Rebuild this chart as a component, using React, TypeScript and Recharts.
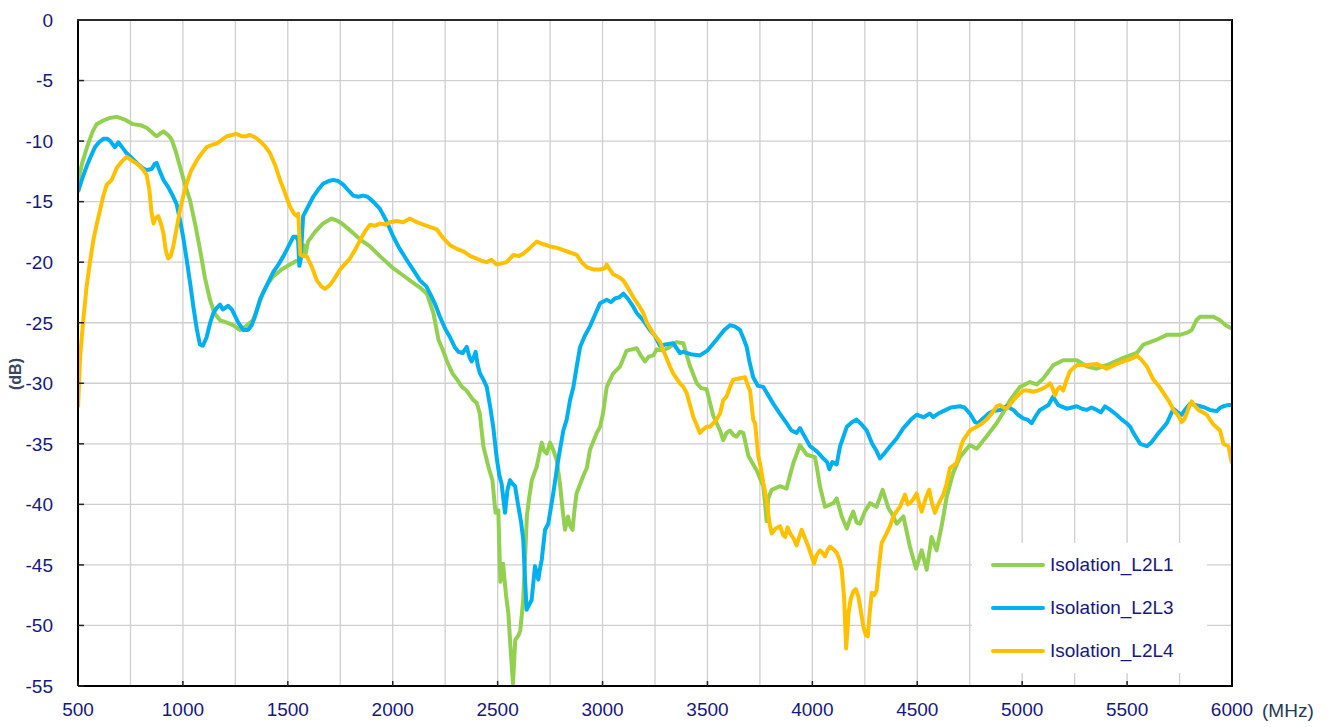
import { CartesianGrid, Line, LineChart, XAxis, YAxis } from "recharts";

// [MHz, dB]
const isolationL2L1: [number, number][] = [
  [500, -13.3], [520, -11.8], [545, -10.4], [570, -9.2], [589, -8.6], [620, -8.3], [650, -8.1], [685, -8.0],
  [720, -8.2], [762, -8.6], [800, -8.7], [827, -8.9], [860, -9.4], [875, -9.6], [907, -9.2], [930, -9.5],
  [947, -9.9], [965, -10.8], [986, -12.1], [1010, -13.6], [1034, -14.9], [1060, -17.0], [1082, -19.0],
  [1105, -21.3], [1129, -23.1], [1150, -24.2], [1177, -24.8], [1210, -25.0], [1239, -25.2], [1272, -25.6],
  [1300, -25.3], [1334, -24.8], [1360, -23.6], [1382, -22.5], [1405, -21.8], [1429, -21.2], [1470, -20.6],
  [1510, -20.2], [1540, -19.9], [1558, -19.8], [1575, -18.6], [1585, -19.3], [1596, -18.3], [1630, -17.5],
  [1668, -16.8], [1709, -16.4], [1740, -16.6], [1764, -16.9], [1812, -17.6], [1850, -18.2], [1892, -18.7],
  [1939, -19.5], [2002, -20.5], [2050, -21.1], [2098, -21.7], [2130, -22.1], [2163, -22.6], [2194, -24.2],
  [2218, -26.4], [2240, -27.3], [2259, -28.2], [2285, -29.2], [2307, -29.7], [2330, -30.3], [2352, -30.6],
  [2384, -31.4], [2400, -31.6], [2415, -32.5], [2432, -35.2], [2456, -36.9], [2475, -38.0], [2490, -40.7],
  [2503, -40.5], [2513, -46.4], [2526, -44.9], [2540, -47.5], [2551, -49.0], [2562, -52.0], [2573, -54.8],
  [2584, -51.2], [2600, -50.8], [2608, -50.4], [2622, -47.9], [2632, -44.0], [2639, -41.0], [2650, -39.5],
  [2663, -38.0], [2686, -36.9], [2710, -34.9], [2722, -35.6], [2734, -35.8], [2750, -34.9], [2765, -35.5],
  [2781, -36.3], [2797, -38.3], [2810, -40.5], [2821, -42.1], [2835, -41.0], [2846, -41.8], [2857, -42.1],
  [2866, -40.5], [2876, -39.1], [2907, -37.7], [2925, -37.0], [2940, -35.5], [2972, -34.1], [2988, -33.6],
  [3002, -32.5], [3020, -30.3], [3050, -29.2], [3084, -28.6], [3115, -27.3], [3140, -27.2], [3163, -27.1],
  [3182, -27.7], [3202, -28.2], [3220, -27.8], [3242, -27.7], [3258, -27.2], [3290, -27.3], [3321, -27.0],
  [3353, -26.6], [3385, -26.7], [3417, -28.6], [3449, -30.0], [3470, -30.4], [3496, -30.5], [3528, -32.7],
  [3560, -33.9], [3575, -34.7], [3591, -34.1], [3607, -33.9], [3625, -34.3], [3639, -34.4], [3655, -34.0],
  [3671, -34.1], [3695, -36.0], [3735, -37.2], [3766, -38.5], [3775, -40.0], [3782, -41.4], [3790, -39.5],
  [3806, -38.8], [3846, -38.5], [3877, -38.7], [3895, -37.5], [3909, -36.6], [3941, -35.1], [3973, -35.9],
  [4012, -36.1], [4024, -37.2], [4036, -38.5], [4060, -40.2], [4100, -39.9], [4116, -39.5], [4140, -41.0],
  [4164, -42.0], [4180, -41.2], [4195, -40.6], [4211, -41.5], [4227, -41.6], [4250, -40.6], [4275, -39.9],
  [4306, -40.2], [4335, -38.8], [4362, -40.3], [4380, -40.8], [4402, -41.6], [4434, -41.0], [4465, -43.5],
  [4494, -45.3], [4521, -43.8], [4545, -45.4], [4568, -42.7], [4592, -43.8], [4616, -41.8], [4640, -39.4],
  [4671, -37.4], [4703, -36.1], [4751, -35.1], [4783, -35.4], [4830, -34.4], [4878, -33.3], [4910, -32.4],
  [4942, -31.4], [4990, -30.3], [5037, -29.9], [5069, -30.1], [5101, -29.6], [5148, -28.5], [5196, -28.1],
  [5260, -28.1], [5307, -28.6], [5355, -28.8], [5418, -28.4], [5482, -27.9], [5546, -27.5], [5578, -26.8],
  [5641, -26.4], [5689, -26.0], [5752, -26.0], [5790, -25.8], [5808, -25.6], [5830, -24.8], [5848, -24.5],
  [5911, -24.5], [5943, -24.8], [5970, -25.2], [6000, -25.5],
];

const isolationL2L3: [number, number][] = [
  [500, -14.2], [520, -13.1], [541, -12.1], [560, -11.3], [581, -10.5], [600, -10.1], [621, -9.8], [640, -9.8],
  [653, -10.0], [676, -10.5], [692, -10.1], [710, -10.5], [732, -11.0], [756, -11.4], [780, -11.8], [805, -12.2],
  [827, -12.4], [851, -12.3], [865, -11.9], [875, -11.8], [890, -12.5], [907, -13.2], [930, -13.8], [954, -14.6],
  [970, -15.2], [986, -16.5], [1000, -17.8], [1018, -19.8], [1035, -21.8], [1050, -23.7], [1066, -25.5],
  [1081, -26.8], [1095, -26.9], [1113, -26.2], [1130, -25.0], [1145, -24.2], [1160, -23.8], [1177, -23.5],
  [1190, -23.9], [1200, -23.8], [1215, -23.6], [1233, -23.9], [1250, -24.5], [1264, -25.0], [1288, -25.6],
  [1310, -25.6], [1328, -25.2], [1345, -24.4], [1367, -23.1], [1400, -21.9], [1431, -20.8], [1455, -20.2],
  [1479, -19.5], [1500, -18.8], [1526, -17.9], [1540, -17.9], [1549, -18.2], [1555, -20.3], [1561, -19.8],
  [1573, -16.2], [1600, -15.3], [1621, -14.6], [1645, -14.0], [1669, -13.5], [1695, -13.3], [1717, -13.2],
  [1740, -13.3], [1764, -13.6], [1790, -14.1], [1812, -14.5], [1835, -14.6], [1860, -14.5], [1880, -14.6],
  [1907, -15.0], [1939, -15.6], [1970, -16.6], [2003, -17.9], [2030, -18.8], [2066, -19.8], [2100, -20.7],
  [2130, -21.5], [2160, -22.0], [2178, -22.6], [2200, -23.4], [2225, -24.5], [2250, -25.5], [2273, -26.2],
  [2295, -27.0], [2313, -27.4], [2333, -27.5], [2353, -27.0], [2365, -27.8], [2376, -28.2], [2387, -27.8],
  [2395, -27.4], [2405, -28.5], [2416, -29.2], [2432, -29.7], [2448, -30.3], [2465, -32.0], [2479, -33.6],
  [2495, -36.1], [2508, -37.6], [2519, -38.3], [2527, -39.5], [2535, -40.7], [2547, -38.8], [2559, -38.0],
  [2571, -38.3], [2583, -38.5], [2599, -40.2], [2612, -41.5], [2622, -42.9], [2630, -46.0], [2638, -48.7],
  [2650, -48.3], [2662, -47.9], [2670, -46.5], [2678, -45.1], [2694, -46.2], [2702, -45.3], [2710, -44.6],
  [2726, -42.1], [2741, -41.6], [2765, -39.1], [2789, -36.3], [2813, -33.9], [2829, -33.0], [2845, -31.4],
  [2861, -30.3], [2877, -28.6], [2893, -27.0], [2915, -26.1], [2940, -25.3], [2965, -24.3], [2988, -23.4],
  [3020, -23.1], [3040, -23.3], [3059, -23.0], [3080, -22.9], [3099, -22.6], [3120, -23.0], [3147, -23.7],
  [3163, -24.2], [3194, -24.8], [3226, -25.6], [3250, -26.1], [3274, -26.9], [3300, -26.8], [3337, -26.7],
  [3369, -27.5], [3385, -27.4], [3420, -27.6], [3464, -27.7], [3500, -27.3], [3543, -26.4], [3580, -25.6],
  [3607, -25.2], [3630, -25.3], [3655, -25.6], [3672, -26.3], [3687, -27.0], [3700, -28.2], [3718, -29.5],
  [3740, -30.2], [3766, -30.3], [3790, -31.0], [3814, -31.7], [3845, -32.5], [3877, -33.3], [3900, -33.9],
  [3925, -34.1], [3941, -33.7], [3960, -34.3], [3989, -35.2], [4020, -35.6], [4052, -36.2], [4070, -36.5],
  [4081, -37.1], [4095, -36.5], [4116, -36.7], [4132, -35.2], [4148, -34.4], [4164, -33.6], [4190, -33.2],
  [4211, -33.0], [4235, -33.4], [4259, -33.9], [4285, -35.0], [4306, -35.6], [4322, -36.2], [4338, -35.9],
  [4370, -35.2], [4400, -34.6], [4434, -33.7], [4470, -33.0], [4497, -32.6], [4530, -32.8], [4560, -32.5],
  [4576, -32.8], [4600, -32.5], [4624, -32.3], [4660, -32.0], [4703, -31.9], [4725, -32.0], [4751, -32.5],
  [4775, -33.2], [4790, -33.3], [4814, -32.9], [4840, -32.5], [4862, -32.3], [4894, -32.2], [4926, -31.9],
  [4958, -32.2], [4980, -32.6], [5005, -32.9], [5025, -33.0], [5045, -33.3], [5065, -32.7], [5085, -32.2],
  [5105, -32.0], [5125, -31.8], [5148, -31.1], [5160, -31.5], [5172, -31.8], [5212, -32.1], [5260, -31.9],
  [5285, -32.1], [5307, -32.2], [5330, -32.0], [5355, -32.2], [5375, -32.4], [5395, -31.9], [5420, -32.2],
  [5450, -32.6], [5475, -33.0], [5498, -33.3], [5515, -33.6], [5530, -34.1], [5562, -35.0], [5594, -35.2],
  [5615, -34.9], [5641, -34.3], [5665, -33.8], [5689, -33.3], [5705, -32.7], [5721, -32.1], [5740, -32.4],
  [5760, -32.6], [5780, -32.1], [5800, -31.7], [5825, -31.8], [5848, -31.9], [5870, -32.0], [5895, -32.2],
  [5927, -32.3], [5945, -32.0], [5959, -31.9], [5980, -31.8], [6000, -31.8],
];

const isolationL2L4: [number, number][] = [
  [500, -32.0], [505, -30.0], [510, -27.8], [525, -24.8], [541, -22.0], [557, -20.0], [573, -18.2], [590, -16.8],
  [605, -15.7], [621, -14.5], [637, -13.6], [661, -13.2], [685, -12.2], [708, -11.7], [732, -11.3], [756, -11.6],
  [775, -11.8], [796, -12.1], [812, -12.4], [827, -12.8], [840, -14.0], [851, -16.0], [860, -16.8], [867, -16.4],
  [883, -16.2], [895, -16.8], [907, -17.6], [918, -19.0], [930, -19.7], [942, -19.5], [954, -18.7], [970, -17.2],
  [986, -15.7], [1002, -14.5], [1018, -13.5], [1040, -12.4], [1066, -11.6], [1090, -11.0], [1113, -10.5],
  [1140, -10.3], [1161, -10.2], [1185, -9.9], [1209, -9.6], [1235, -9.5], [1256, -9.4], [1280, -9.6],
  [1300, -9.6], [1320, -9.5], [1345, -9.7], [1367, -10.0], [1390, -10.4], [1415, -11.0], [1440, -12.0],
  [1463, -13.2], [1485, -14.2], [1510, -15.4], [1530, -16.0], [1542, -16.2], [1550, -16.0], [1555, -17.8],
  [1560, -19.4], [1575, -19.5], [1590, -19.5], [1615, -20.4], [1638, -21.5], [1660, -22.0], [1677, -22.2],
  [1700, -21.9], [1717, -21.5], [1749, -20.6], [1770, -20.2], [1796, -19.7], [1820, -19.0], [1844, -18.2],
  [1870, -17.4], [1892, -16.9], [1915, -17.0], [1939, -16.8], [1965, -16.9], [1987, -16.7], [2019, -16.6],
  [2050, -16.7], [2082, -16.4], [2115, -16.7], [2146, -16.9], [2180, -17.1], [2210, -17.3], [2240, -18.0],
  [2273, -18.6], [2305, -18.9], [2337, -19.1], [2370, -19.5], [2400, -19.7], [2425, -19.9], [2448, -20.0],
  [2470, -19.8], [2495, -20.2], [2520, -20.1], [2543, -20.0], [2575, -19.4], [2600, -19.5], [2622, -19.3],
  [2655, -18.8], [2686, -18.3], [2715, -18.5], [2750, -18.7], [2780, -18.8], [2813, -19.0], [2845, -19.2],
  [2877, -19.4], [2900, -20.0], [2924, -20.4], [2955, -20.6], [2988, -20.6], [3010, -20.5], [3020, -20.2],
  [3027, -20.4], [3051, -21.0], [3075, -21.2], [3099, -21.5], [3120, -22.1], [3147, -22.9], [3170, -23.5],
  [3194, -24.2], [3211, -25.0], [3242, -25.9], [3274, -26.6], [3290, -27.3], [3321, -28.6], [3337, -29.2],
  [3369, -30.0], [3385, -30.3], [3401, -30.8], [3420, -32.0], [3433, -32.8], [3450, -33.5], [3464, -34.1],
  [3480, -33.8], [3496, -33.6], [3512, -33.6], [3543, -33.0], [3560, -32.5], [3575, -31.4], [3591, -31.1],
  [3610, -30.2], [3623, -29.7], [3650, -29.6], [3679, -29.5], [3695, -30.3], [3703, -30.6], [3718, -33.0],
  [3727, -33.3], [3742, -36.0], [3750, -36.6], [3766, -38.2], [3782, -39.6], [3795, -41.5], [3806, -42.4],
  [3825, -42.0], [3846, -41.8], [3860, -42.5], [3870, -42.7], [3882, -41.9], [3894, -42.4], [3910, -42.8],
  [3925, -43.4], [3937, -42.7], [3949, -42.1], [3965, -42.8], [3981, -43.5], [3995, -44.2], [4008, -44.9],
  [4020, -44.2], [4036, -43.8], [4048, -44.0], [4060, -44.3], [4072, -43.8], [4084, -43.5], [4100, -43.7],
  [4116, -44.0], [4130, -44.6], [4140, -45.4], [4151, -47.6], [4161, -51.9], [4167, -50.5], [4172, -49.0],
  [4183, -47.8], [4195, -47.2], [4207, -47.0], [4219, -47.6], [4231, -48.8], [4243, -50.1], [4255, -50.8],
  [4264, -50.9], [4273, -49.0], [4283, -47.3], [4295, -47.5], [4306, -47.1], [4318, -45.0], [4330, -43.2],
  [4354, -42.4], [4370, -41.8], [4386, -41.0], [4400, -40.6], [4418, -40.2], [4441, -39.2], [4455, -40.0],
  [4465, -39.9], [4480, -39.6], [4497, -39.1], [4510, -40.0], [4521, -40.6], [4540, -39.5], [4557, -38.8],
  [4570, -39.9], [4584, -40.7], [4600, -40.0], [4624, -39.2], [4640, -38.3], [4656, -37.0], [4687, -36.6],
  [4705, -35.4], [4719, -34.7], [4751, -33.9], [4783, -33.6], [4810, -33.3], [4830, -33.0], [4855, -32.5],
  [4878, -31.9], [4894, -31.8], [4910, -32.0], [4926, -32.1], [4958, -31.4], [4980, -31.0], [5005, -30.6],
  [5030, -30.6], [5053, -30.7], [5075, -30.6], [5101, -30.4], [5120, -30.2], [5133, -30.0], [5145, -30.4],
  [5156, -31.0], [5168, -30.5], [5180, -30.3], [5196, -30.6], [5210, -29.8], [5228, -29.0], [5260, -28.5],
  [5307, -28.5], [5355, -28.4], [5403, -28.8], [5450, -28.4], [5498, -28.1], [5530, -27.9], [5546, -27.7],
  [5565, -28.0], [5594, -28.6], [5625, -29.7], [5650, -30.2], [5673, -30.8], [5700, -31.5], [5721, -32.2],
  [5745, -32.7], [5760, -33.2], [5772, -33.0], [5784, -32.5], [5796, -31.9], [5808, -31.5], [5820, -31.8],
  [5840, -32.2], [5860, -32.4], [5880, -32.6], [5895, -33.0], [5911, -33.4], [5930, -33.7], [5943, -33.9],
  [5959, -35.0], [5983, -35.2], [5992, -36.0], [6000, -36.6],
];

const xTicks = [
  500, 750, 1000, 1250, 1500, 1750, 2000, 2250, 2500, 2750, 3000, 3250, 3500, 3750, 4000, 4250, 4500, 4750,
  5000, 5250, 5500, 5750, 6000,
];
const yTicks = [0, -5, -10, -15, -20, -25, -30, -35, -40, -45, -50, -55];

const seriesNames = ["Isolation_L2L1", "Isolation_L2L3", "Isolation_L2L4"];
const seriesColors = ["#92d050", "#00b0f0", "#ffc000"];
const seriesData = [isolationL2L1, isolationL2L3, isolationL2L4];

const FONT = '"Liberation Sans", Arial, sans-serif';
const TICK_COLOR = "#17177f";
const PLOT_LEFT = 78;
const PLOT_BOTTOM = 686;

function XTick({ x, y, payload }: any) {
  if (payload.value % 500 !== 0) return <g />;
  return (
    <g>
      <line x1={x} x2={x} y1={PLOT_BOTTOM} y2={PLOT_BOTTOM - 5} stroke="#222" strokeWidth={1.5} />
      <text x={x} y={y} dy="0.71em" textAnchor="middle" fill={TICK_COLOR} fontSize={19} fontFamily={FONT}>
        {payload.value}
      </text>
    </g>
  );
}

function YTick({ x, y, payload }: any) {
  return (
    <g>
      <line x1={PLOT_LEFT} x2={PLOT_LEFT + 6} y1={y} y2={y} stroke="#222" strokeWidth={1.5} />
      <text x={x} y={y} dy="0.36em" textAnchor="end" fill={TICK_COLOR} fontSize={19} fontFamily={FONT}>
        {payload.value}
      </text>
    </g>
  );
}

export default function App() {
  return (
    <div style={{ position: "absolute", left: 0, top: 0, width: 1337, height: 727, background: "#fff" }}>
      <LineChart width={1337} height={727} margin={{ top: 20, right: 105, left: 0, bottom: 11 }}>
        <CartesianGrid stroke="#cfcfcf" strokeWidth={1.3} />
        <XAxis
          type="number"
          dataKey="f"
          domain={[500, 6000]}
          ticks={xTicks}
          interval={0}
          allowDataOverflow
          height={30}
          tickSize={0}
          tickMargin={17}
          tick={<XTick />}
          axisLine={{ stroke: "#000", strokeWidth: 2 }}
          label={{
            value: "(MHz)",
            position: "right",
            offset: 30,
            dy: 9,
            fill: "#233a55",
            fontSize: 19,
            fontFamily: FONT,
          }}
        />
        <YAxis
          type="number"
          domain={[-55, 0]}
          ticks={yTicks}
          interval={0}
          allowDataOverflow
          width={78}
          tickSize={0}
          tickMargin={25}
          tick={<YTick />}
          axisLine={{ stroke: "#000", strokeWidth: 2 }}
          label={{
            value: "(dB)",
            angle: -90,
            position: "insideLeft",
            offset: 15,
            dy: 37,
            fill: "#3a4660",
            fontSize: 16,
            fontWeight: "bold",
            fontFamily: FONT,
          }}
        />
        {seriesData.map((pts, i) => (
          <Line
            key={seriesNames[i]}
            name={seriesNames[i]}
            data={pts.map(([f, v]) => ({ f, v }))}
            dataKey="v"
            type="linear"
            stroke={seriesColors[i]}
            strokeWidth={4}
            strokeLinejoin="round"
            dot={false}
            activeDot={false}
            isAnimationActive={false}
          />
        ))}
      </LineChart>
      {/* plot frame (top/right edges; left/bottom come from the axes) */}
      <div
        style={{
          position: "absolute",
          left: 77,
          top: 19,
          width: 1156,
          height: 668,
          boxSizing: "border-box",
          borderTop: "2px solid #2a2a2a",
          borderRight: "2px solid #000",
          pointerEvents: "none",
        }}
      />
      <div
        style={{
          position: "absolute",
          left: 972,
          top: 543,
          width: 235,
          height: 130,
          background: "#fff",
          fontFamily: FONT,
        }}
      >
        {seriesNames.map((name, i) => (
          <div
            key={name}
            style={{ position: "absolute", left: 19, top: 22 + i * 43 - 12, height: 24, display: "flex", alignItems: "center" }}
          >
            <div style={{ width: 54, height: 4, background: seriesColors[i], borderRadius: 2 }} />
            <span style={{ marginLeft: 5, fontSize: 19, color: TICK_COLOR, whiteSpace: "nowrap" }}>{name}</span>
          </div>
        ))}
      </div>
    </div>
  );
}
